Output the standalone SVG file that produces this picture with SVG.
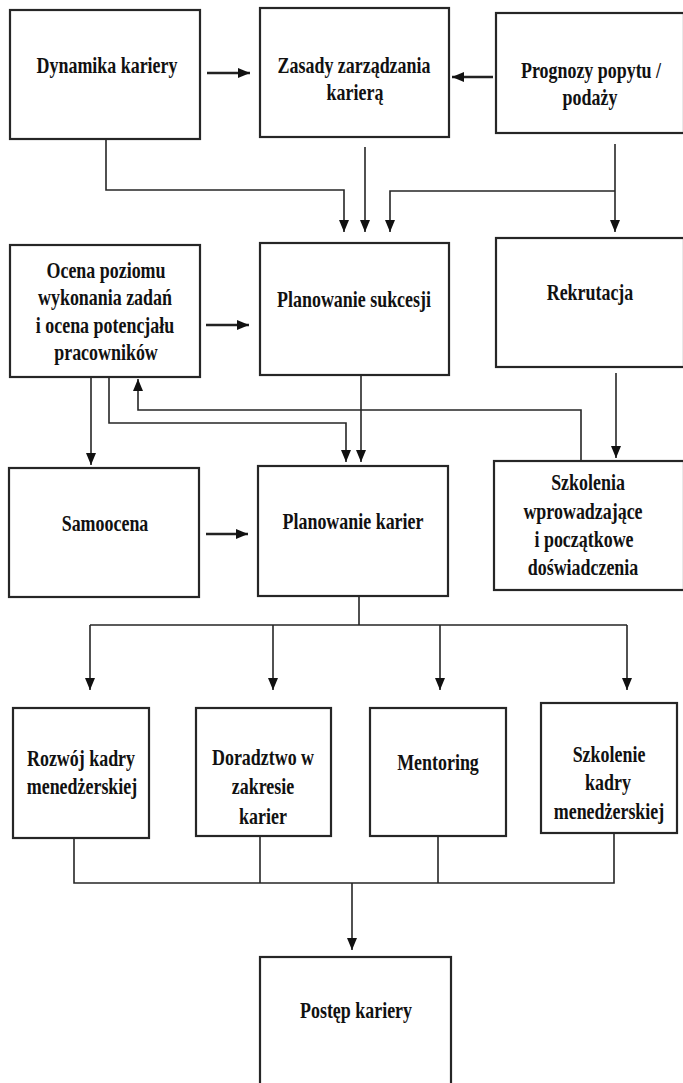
<svg xmlns="http://www.w3.org/2000/svg" width="683" height="1083" viewBox="0 0 683 1083">
<style>
.box{fill:#fff;stroke:#262626;stroke-width:2.2}
.t{font-family:"Liberation Serif","Times New Roman",serif;font-weight:bold;font-size:23px;fill:#111;text-anchor:middle}
.c{fill:none;stroke:#262626;stroke-width:1.6}
.c2{fill:none;stroke:#222;stroke-width:2.4}
</style>
<defs>
<marker id="ah" viewBox="0 0 12 10" markerUnits="userSpaceOnUse" markerWidth="12" markerHeight="12" refX="12" refY="5" orient="auto">
<path d="M0,0 L12,5 L0,10 z" fill="#111"/>
</marker>
</defs>
<rect width="683" height="1083" fill="#fff"/>
<g id="connectors">
<path class="c2" d="M207,73 H250" marker-end="url(#ah)"/>
<path class="c2" d="M493,77 H452" marker-end="url(#ah)"/>
<path class="c" d="M106,139 V190 H344 V232" marker-end="url(#ah)"/>
<path class="c" d="M365,147 V232" marker-end="url(#ah)"/>
<path class="c" d="M615,144 V232" marker-end="url(#ah)"/>
<path class="c" d="M615,191 H390 V232" marker-end="url(#ah)"/>
<path class="c2" d="M206,325 H249" marker-end="url(#ah)"/>
<path class="c" d="M91,377 V465" marker-end="url(#ah)"/>
<path class="c" d="M109,377 V423 H346 V462" marker-end="url(#ah)"/>
<path class="c" d="M361,375 V462" marker-end="url(#ah)"/>
<path class="c" d="M616,373 V458" marker-end="url(#ah)"/>
<path class="c" d="M581,461 V410 H138 V379" marker-end="url(#ah)"/>
<path class="c2" d="M206,534 H248" marker-end="url(#ah)"/>
<path class="c" d="M359,596 V625 M90,625 H627"/>
<path class="c" d="M90,625 V690" marker-end="url(#ah)"/>
<path class="c" d="M273,625 V690" marker-end="url(#ah)"/>
<path class="c" d="M440,625 V690" marker-end="url(#ah)"/>
<path class="c" d="M627,625 V690" marker-end="url(#ah)"/>
<path class="c" d="M74,838 V883 H614 V833 M260,836 V883 M438,836 V883"/>
<path class="c" d="M352,883 V950" marker-end="url(#ah)"/>
</g>
<g id="n1"><rect class="box" x="10" y="10" width="190" height="129"/>
<text class="t" transform="translate(107,73) scale(0.78,1)">Dynamika kariery</text></g>
<g id="n2"><rect class="box" x="260" y="8" width="189" height="129"/>
<text class="t" transform="translate(354,73) scale(0.78,1)">Zasady zarządzania</text>
<text class="t" transform="translate(355,100) scale(0.78,1)">karierą</text></g>
<g id="n3"><rect class="box" x="496" y="13" width="188" height="120"/>
<text class="t" transform="translate(591,78) scale(0.78,1)">Prognozy popytu /</text>
<text class="t" transform="translate(590,105) scale(0.78,1)">podaży</text></g>
<g id="n4"><rect class="box" x="10" y="245" width="190" height="132"/>
<text class="t" transform="translate(106,278) scale(0.78,1)">Ocena poziomu</text>
<text class="t" transform="translate(105,305) scale(0.78,1)">wykonania zadań</text>
<text class="t" transform="translate(105,333) scale(0.78,1)">i ocena potencjału</text>
<text class="t" transform="translate(106,360) scale(0.78,1)">pracowników</text></g>
<g id="n5"><rect class="box" x="260" y="243" width="189" height="132"/>
<text class="t" transform="translate(354,307) scale(0.78,1)">Planowanie sukcesji</text></g>
<g id="n6"><rect class="box" x="496" y="238" width="188" height="129"/>
<text class="t" transform="translate(590,300) scale(0.78,1)">Rekrutacja</text></g>
<g id="n7"><rect class="box" x="9" y="468" width="190" height="129"/>
<text class="t" transform="translate(105,531) scale(0.78,1)">Samoocena</text></g>
<g id="n8"><rect class="box" x="258" y="466" width="190" height="130"/>
<text class="t" transform="translate(353,529) scale(0.78,1)">Planowanie karier</text></g>
<g id="n9"><rect class="box" x="494" y="461" width="190" height="129"/>
<text class="t" transform="translate(588,490) scale(0.78,1)">Szkolenia</text>
<text class="t" transform="translate(583,519) scale(0.78,1)">wprowadzające</text>
<text class="t" transform="translate(584,547) scale(0.78,1)">i początkowe</text>
<text class="t" transform="translate(583,575) scale(0.78,1)">doświadczenia</text></g>
<g id="n10"><rect class="box" x="13" y="708" width="136" height="130"/>
<text class="t" transform="translate(81,766) scale(0.78,1)">Rozwój kadry</text>
<text class="t" transform="translate(82,794) scale(0.78,1)">menedżerskiej</text></g>
<g id="n11"><rect class="box" x="196" y="708" width="135" height="128"/>
<text class="t" transform="translate(263,765) scale(0.78,1)">Doradztwo w</text>
<text class="t" transform="translate(263,794) scale(0.78,1)">zakresie</text>
<text class="t" transform="translate(263,824) scale(0.78,1)">karier</text></g>
<g id="n12"><rect class="box" x="370" y="708" width="136" height="128"/>
<text class="t" transform="translate(438,770) scale(0.78,1)">Mentoring</text></g>
<g id="n13"><rect class="box" x="541" y="703" width="136" height="130"/>
<text class="t" transform="translate(609,762) scale(0.78,1)">Szkolenie</text>
<text class="t" transform="translate(608,790) scale(0.78,1)">kadry</text>
<text class="t" transform="translate(609,819) scale(0.78,1)">menedżerskiej</text></g>
<g id="n14"><rect class="box" x="260" y="957" width="191" height="140"/>
<text class="t" transform="translate(356,1018) scale(0.78,1)">Postęp kariery</text></g>
</svg>
